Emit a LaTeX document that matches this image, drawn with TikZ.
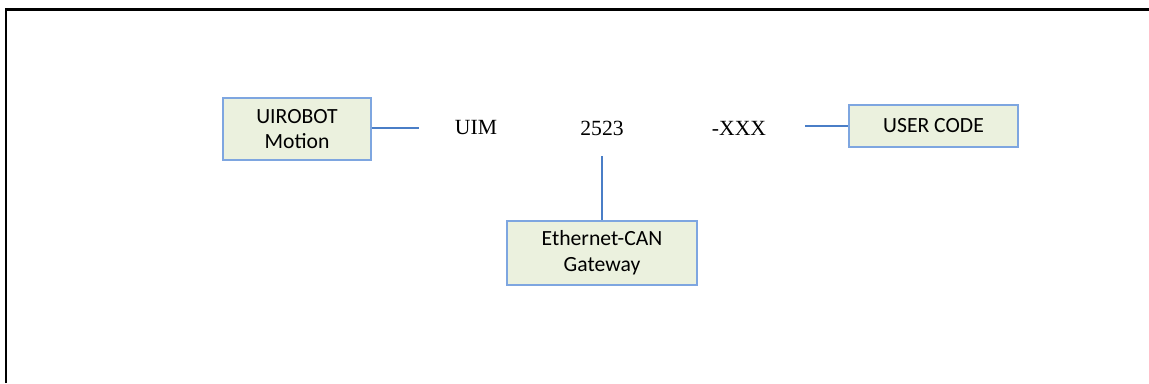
\documentclass[tikz,border=0pt]{standalone}
\usepackage{fontspec}
\setmainfont{Liberation Serif}
\setsansfont{Carlito}
\usetikzlibrary{positioning}
\definecolor{boxfill}{HTML}{EBF1DE}
\definecolor{boxline}{HTML}{7EA6E0}
\definecolor{linkblue}{HTML}{4A7EC7}
\begin{document}
\begin{tikzpicture}[x=0.025cm, y=-0.025cm]
% Definir estilos
\tikzset{part/.style = {rectangle, fill=boxfill, draw=boxline, line width=1pt, align=center, font=\sffamily\fontsize{15.4}{18.3}\selectfont}}
\tikzset{code/.style = {inner sep=0pt, font=\fontsize{15.4}{18.3}\selectfont}}
\tikzset{link/.style = {linkblue, line width=1.4pt}}

\useasboundingbox (0,0) rectangle (1149,383);

% Marco
\draw[line width=1.5pt] (6,383) -- (6,9.5) -- (1149,9.5);

% Codigo del modelo
\node[code] (uim) at (476,128) {UIM};
\node[code] (series) at (602,128) {2523};
\node[code] (suffix) at (739,128) {-XXX};

% Cajas
\node[part, minimum width=105.3pt, minimum height=44.1pt] (motion) at (297,129) {UIROBOT\\Motion};
\node[part, minimum width=135.1pt, minimum height=45.5pt] (gateway) at (602,253) {Ethernet-CAN\\Gateway};
\node[part, minimum width=120.2pt, minimum height=29.9pt] (usercode) at (933.5,126) {USER CODE};

% Puntos libres de las lineas
\coordinate (uimend) at (419,127.7);
\coordinate (seriesend) at (602,156);
\coordinate (suffixend) at (805,126);

% Conexiones
\draw[link] (motion.east |- uimend) -- (uimend);
\draw[link] (seriesend) -- (gateway.north);
\draw[link] (suffixend) -- (usercode.west |- suffixend);
\end{tikzpicture}
\end{document}
